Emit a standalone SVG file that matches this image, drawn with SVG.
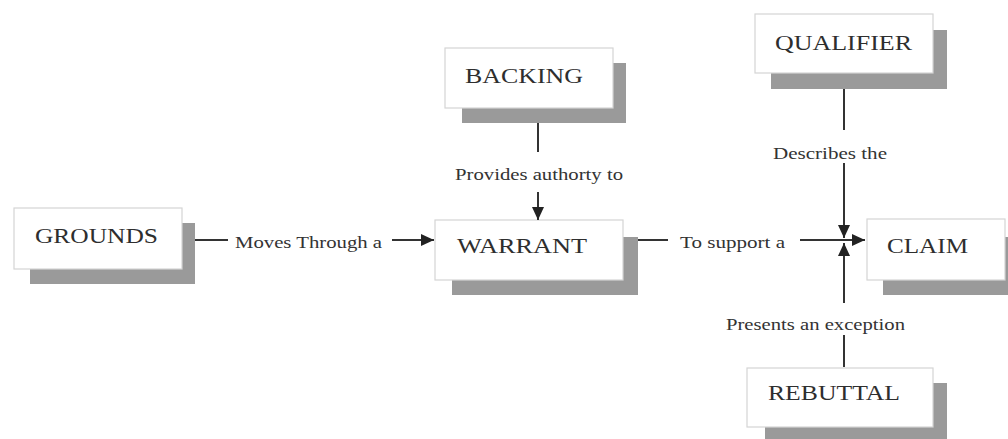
<svg xmlns="http://www.w3.org/2000/svg" width="1008" height="439" viewBox="0 0 1008 439">
  <defs>
    <marker id="arrow" markerUnits="userSpaceOnUse" markerWidth="14" markerHeight="12" refX="13" refY="6" orient="auto">
      <path d="M0,0 L13,6 L0,12 Z" fill="#222"/>
    </marker>
  </defs>
  <style>
    .shadow { fill: #9a9a9a; }
    .box { fill: #ffffff; stroke: #d4d4d4; stroke-width: 1.2; }
    .title { font-family: "Liberation Serif", "Times New Roman", serif; font-size: 22px; fill: #2e2e2e; }
    .label { font-family: "Liberation Serif", "Times New Roman", serif; font-size: 16px; fill: #333; }
    .link { stroke: #333; stroke-width: 2; fill: none; }
  </style>
  <rect width="1008" height="439" fill="#ffffff"/>

  <g id="grounds">
    <rect class="shadow" x="30" y="223" width="165" height="61"/>
    <rect class="box" x="14" y="208" width="168" height="61"/>
    <text class="title" x="35" y="243" textLength="123" lengthAdjust="spacingAndGlyphs">GROUNDS</text>
  </g>

  <g id="backing">
    <rect class="shadow" x="462" y="63" width="164" height="60"/>
    <rect class="box" x="445" y="48" width="168" height="60"/>
    <text class="title" x="465" y="83" textLength="118" lengthAdjust="spacingAndGlyphs">BACKING</text>
  </g>

  <g id="warrant">
    <rect class="shadow" x="452" y="237" width="186" height="58"/>
    <rect class="box" x="435" y="220" width="188" height="60"/>
    <text class="title" x="457" y="253" textLength="130" lengthAdjust="spacingAndGlyphs">WARRANT</text>
  </g>

  <g id="qualifier">
    <rect class="shadow" x="771" y="30" width="176" height="59"/>
    <rect class="box" x="755" y="14" width="178" height="59"/>
    <text class="title" x="775" y="50" textLength="137" lengthAdjust="spacingAndGlyphs">QUALIFIER</text>
  </g>

  <g id="claim">
    <rect class="shadow" x="883" y="237" width="130" height="58"/>
    <rect class="box" x="867" y="219" width="138" height="61"/>
    <text class="title" x="887" y="253" textLength="81" lengthAdjust="spacingAndGlyphs">CLAIM</text>
  </g>

  <g id="rebuttal">
    <rect class="shadow" x="765" y="383" width="182" height="60"/>
    <rect class="box" x="747" y="368" width="186" height="59"/>
    <text class="title" x="768" y="400" textLength="132" lengthAdjust="spacingAndGlyphs">REBUTTAL</text>
  </g>

  <g id="connectors">
    <!-- grounds to warrant -->
    <line class="link" x1="195" y1="240" x2="228" y2="240"/>
    <line class="link" x1="392" y1="240" x2="434" y2="240" marker-end="url(#arrow)"/>
    <!-- backing to warrant -->
    <line class="link" x1="538" y1="123" x2="538" y2="152"/>
    <line class="link" x1="538" y1="192" x2="538" y2="220" marker-end="url(#arrow)"/>
    <!-- warrant to claim -->
    <line class="link" x1="638" y1="240" x2="668" y2="240"/>
    <line class="link" x1="800" y1="240" x2="865" y2="240" marker-end="url(#arrow)"/>
    <!-- qualifier to claim -->
    <line class="link" x1="844" y1="89" x2="844" y2="130"/>
    <line class="link" x1="844" y1="163" x2="844" y2="238" marker-end="url(#arrow)"/>
    <!-- rebuttal to claim -->
    <line class="link" x1="844" y1="367" x2="844" y2="335"/>
    <line class="link" x1="844" y1="303" x2="844" y2="243" marker-end="url(#arrow)"/>
  </g>

  <g id="labels">
    <text class="label" x="235" y="248" textLength="147" lengthAdjust="spacingAndGlyphs">Moves Through a</text>
    <text class="label" x="455" y="180" textLength="168" lengthAdjust="spacingAndGlyphs">Provides authorty to</text>
    <text class="label" x="680" y="248" textLength="105" lengthAdjust="spacingAndGlyphs">To support a</text>
    <text class="label" x="773" y="159" textLength="114" lengthAdjust="spacingAndGlyphs">Describes the</text>
    <text class="label" x="726" y="330" textLength="179" lengthAdjust="spacingAndGlyphs">Presents an exception</text>
  </g>
</svg>
